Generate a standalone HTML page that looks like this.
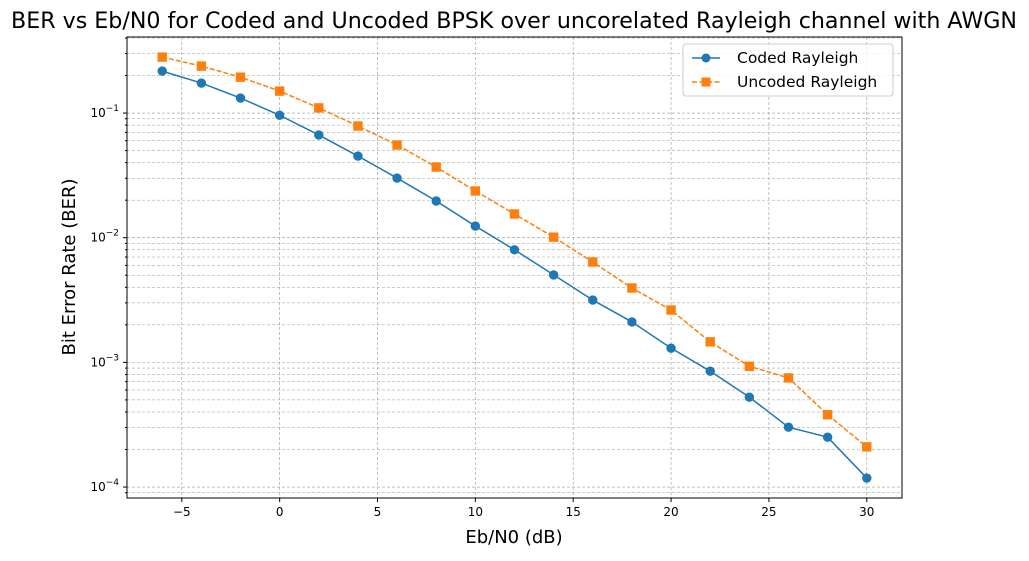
<!DOCTYPE html>
<html><head><meta charset="utf-8"><style>
body{margin:0;background:#fff;font-family:"Liberation Sans","DejaVu Sans",sans-serif;}
svg text{font-family:"DejaVu Sans","Liberation Sans",sans-serif;}
</style></head><body>
<svg id="chart" width="1029" height="556" viewBox="0 0 1029 556" xmlns="http://www.w3.org/2000/svg">
<text x="514" y="28" text-anchor="middle" font-size="22" textLength="1006" lengthAdjust="spacingAndGlyphs">BER vs Eb/N0 for Coded and Uncoded BPSK over uncorelated Rayleigh channel with AWGN</text>
<g id="grid"></g>
<g id="axes"></g>
<g id="series"></g>
<rect x="127" y="37" width="775" height="461" fill="none" stroke="#000" stroke-width="1"/>
<text x="514" y="543" text-anchor="middle" font-size="18">Eb/N0 (dB)</text>
<text transform="translate(75,267) rotate(-90)" text-anchor="middle" font-size="18">Bit Error Rate (BER)</text>
<g>
<rect x="683" y="44" width="210" height="52" fill="#fff" fill-opacity="0.8" stroke="#ccc" rx="3"/>
<line x1="692" y1="58" x2="720" y2="58" stroke="#1f77b4" stroke-width="1.5"/>
<circle cx="706" cy="58" r="4.5" fill="#1f77b4"/>
<text x="737" y="63" font-size="15.5">Coded Rayleigh</text>
<line x1="692" y1="82" x2="720" y2="82" stroke="#ff7f0e" stroke-width="1.5" stroke-dasharray="5,2.5"/>
<rect x="701.5" y="77.5" width="9" height="9" fill="#ff7f0e"/>
<text x="737" y="87" font-size="15.5">Uncoded Rayleigh</text>
</g>
</svg>
<script>
const ebn0 = [-6,-4,-2,0,2,4,6,8,10,12,14,16,18,20,22,24,26,28,30];
const coded = [0.217,0.174,0.132,0.096,0.0667,0.0452,0.0301,0.0197,0.0124,0.0080,0.00503,0.00316,0.00211,0.0013,0.00085,0.000526,0.000302,0.000251,0.000118];
const uncoded = [0.281,0.238,0.194,0.150,0.110,0.0787,0.0554,0.0369,0.0237,0.0155,0.0101,0.00638,0.00395,0.00263,0.00146,0.00093,0.00075,0.00038,0.00021];
const xTicks = [-5,0,5,10,15,20,25,30];
const yTickExps = [-4,-3,-2,-1];

const NS="http://www.w3.org/2000/svg";
const L=127,R=902,T=37,B=498;
const xMin=-7.8,xMax=31.8,yMinL=-4.088,yMaxL=-0.39;
const xs=v=>L+(v-xMin)/(xMax-xMin)*(R-L);
const ys=v=>B-(Math.log10(v)-yMinL)/(yMaxL-yMinL)*(B-T);
function mk(tag,attrs,parent){const e=document.createElementNS(NS,tag);for(const k in attrs)e.setAttribute(k,attrs[k]);parent.appendChild(e);return e;}
const grid=document.getElementById('grid'),axes=document.getElementById('axes'),ser=document.getElementById('series');
xTicks.forEach(t=>{const x=xs(t);
 const g=mk('line',{x1:x,x2:x,y1:T,y2:B,stroke:'#999','stroke-width':0.6,'stroke-dasharray':'3,2'},grid);
 
 
 mk('line',{x1:x,x2:x,y1:B,y2:B+4,stroke:'#000'},axes);
 const tx=mk('text',{x:x,y:B+18,'text-anchor':'middle','font-size':12},axes);tx.textContent=(t<0?'\u2212'+(-t):t);
 
 
});
for(let e=-5;e<=-1;e++){for(let m=1;m<10;m++){const v=m*Math.pow(10,e);const lv=Math.log10(v);if(lv<yMinL||lv>yMaxL)continue;const y=ys(v);
 const g=mk('line',{x1:L,x2:R,y1:y,y2:y,stroke:'#999','stroke-width':m===1?0.6:0.5,'stroke-dasharray':'3,2'},grid);
 
 
 mk('line',{x1:L-(m===1?4:2),x2:L,y1:y,y2:y,stroke:'#000'},axes);}}
yTickExps.forEach(e=>{const y=ys(Math.pow(10,e));
 const tx=mk('text',{x:L-8,y:y+4,'text-anchor':'end','font-size':12},axes);
 tx.innerHTML='10<tspan dy="-6" font-size="9">\u2212'+(-e)+'</tspan>';
 
 
});
function draw(vals,color,dash,marker,name){
 const p=mk('polyline',{points:ebn0.map((x,i)=>xs(x)+','+ys(vals[i])).join(' '),fill:'none',stroke:color,'stroke-width':1.5,'stroke-dasharray':dash},ser);
 
 
 ebn0.forEach((x,i)=>{const cx=xs(x),cy=ys(vals[i]);let m;
  if(marker==='o')m=mk('circle',{cx:cx,cy:cy,r:4.7,fill:color},ser);
  else m=mk('rect',{x:cx-4.7,y:cy-4.7,width:9.4,height:9.4,fill:color},ser);
  
  
 });
}
draw(coded,'#1f77b4','none','o','coded');
draw(uncoded,'#ff7f0e','5,2','s','uncoded');
</script>
</body></html>
